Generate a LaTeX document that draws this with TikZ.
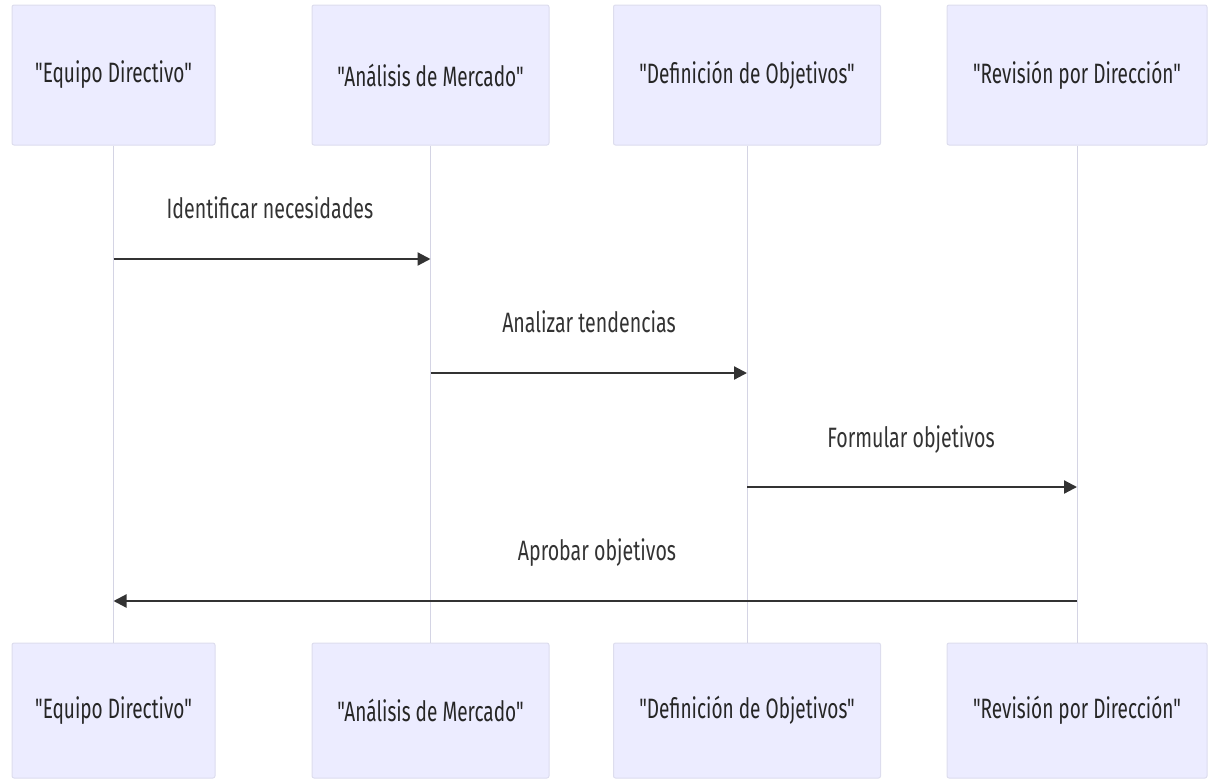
\documentclass[tikz,border=0pt]{standalone}
\usepackage{fontspec}
\setmainfont{Fira Sans}[FakeStretch=0.7]
\newfontfamily\actorfont{Fira Sans}[FakeStretch=0.68]
\usetikzlibrary{arrows.meta}
\definecolor{boxfill}{HTML}{ECECFF}
\definecolor{boxline}{HTML}{DDDDEE}
\definecolor{lifeline}{HTML}{D4D4E4}
\definecolor{msg}{HTML}{333333}
\tikzset{
  actor/.style={draw=boxline, fill=boxfill, line width=1pt, rounded corners=2pt, inner sep=0pt, font=\actorfont\fontsize{28}{30}\selectfont, text=black!85},
  life/.style={draw=lifeline, line width=1pt},
  msgarrow/.style={draw=msg, line width=2.2pt, -{Triangle[length=13pt,width=13pt]}},
  msglabel/.style={font=\fontsize{28}{30}\selectfont, text=black!80}
}
\begin{document}
\begin{tikzpicture}[x=1pt,y=-1pt]
\useasboundingbox (0,0) rectangle (1209,782);
% top actors
\node[actor, minimum width=203pt, minimum height=140pt] (t1) at (113.5,75) {"Equipo Directivo"};
\node[actor, minimum width=237pt, minimum height=140pt] (t2) at (430.5,75) {"Análisis de Mercado"};
\node[actor, minimum width=267pt, minimum height=140pt] (t3) at (747,75) {"Definición de Objetivos"};
\node[actor, minimum width=260pt, minimum height=140pt] (t4) at (1077,75) {"Revisión por Dirección"};
% bottom actors
\node[actor, minimum width=203pt, minimum height=135pt] (b1) at (113.5,710.5) {"Equipo Directivo"};
\node[actor, minimum width=237pt, minimum height=135pt] (b2) at (430.5,710.5) {"Análisis de Mercado"};
\node[actor, minimum width=267pt, minimum height=135pt] (b3) at (747,710.5) {"Definición de Objetivos"};
\node[actor, minimum width=260pt, minimum height=135pt] (b4) at (1077,710.5) {"Revisión por Dirección"};
% lifelines
\draw[life] (t1.south) -- (b1.north);
\draw[life] (t2.south) -- (b2.north);
\draw[life] (t3.south) -- (b3.north);
\draw[life] (t4.south) -- (b4.north);
% message anchors
\coordinate (m1s) at (113.5,259);
\coordinate (m1e) at (430.5,259);
\coordinate (m2s) at (430.5,373);
\coordinate (m2e) at (747,373);
\coordinate (m3s) at (747,487);
\coordinate (m3e) at (1077,487);
\coordinate (m4s) at (1077,601);
\coordinate (m4e) at (113.5,601);
\draw[msgarrow] (m1s) -- (m1e);
\draw[msgarrow] (m2s) -- (m2e);
\draw[msgarrow] (m3s) -- (m3e);
\draw[msgarrow] (m4s) -- (m4e);
\node[msglabel] (l1) at (270,208) {Identificar necesidades};
\node[msglabel] (l2) at (589,322) {Analizar tendencias};
\node[msglabel] (l3) at (911,440) {Formular objetivos};
\node[msglabel] (l4) at (597,553) {Aprobar objetivos};
\end{tikzpicture}
\end{document}
